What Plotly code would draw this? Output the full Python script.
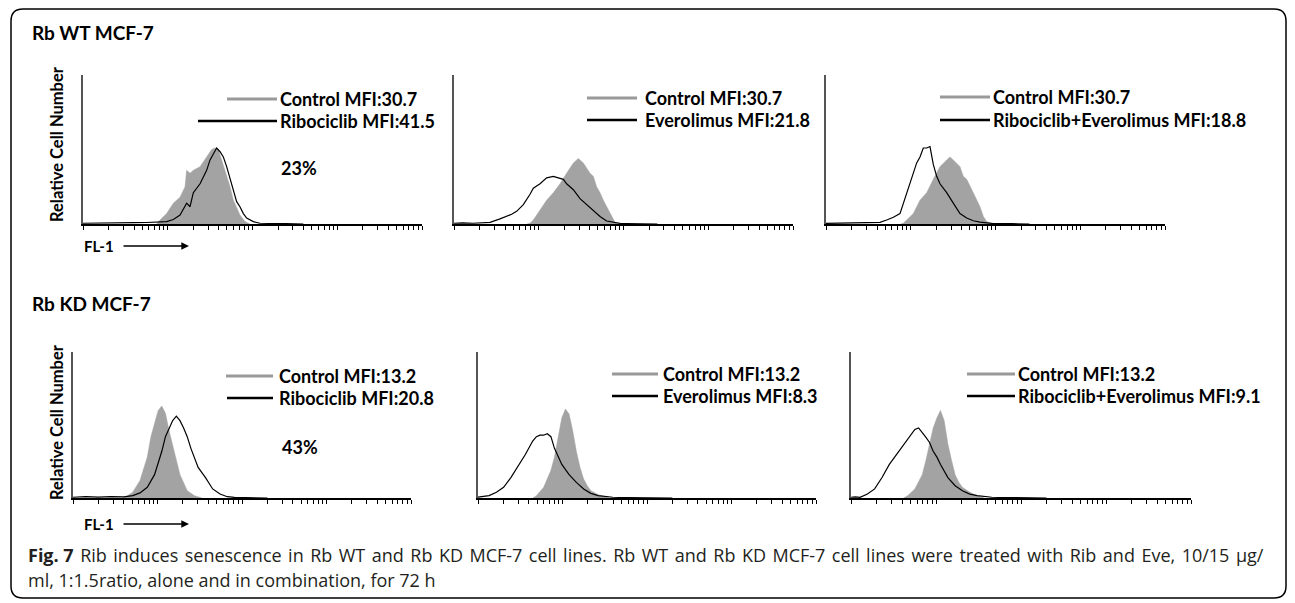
import numpy as np
import plotly.graph_objects as go

W, H = 1295, 603

# ------------------------------------------------------------------
# DATA  (FL-1 position in log10 units, relative cell number in %)
# ------------------------------------------------------------------
# Rb WT MCF-7 ------------------------------------------------------
# Panel 1 : Control vs Ribociclib
p1_ctrl_fl1 = [0.87, 0.909, 0.987, 1.066, 1.145, 1.204, 1.223, 1.263, 1.302, 1.381, 1.459, 1.518,
               1.558, 1.597, 1.636, 1.676, 1.695, 1.735, 1.774, 1.813, 1.852, 1.911, 1.970]
p1_ctrl_cnt = [0, 2.7, 7, 14, 18, 25, 36, 34, 36, 38.5, 45, 50,
               51, 50, 43, 36, 32, 25, 16, 10.5, 6, 1.6, 0]
p1_trt_fl1 = [0.0, 0.2, 0.4, 0.6, 0.75, 0.9, 0.987, 1.066, 1.145, 1.223, 1.263, 1.302, 1.381, 1.459,
              1.499, 1.538, 1.577, 1.617, 1.656, 1.695, 1.735, 1.774, 1.813, 1.852, 1.892, 1.931,
              2.010, 2.088, 2.167, 2.4, 2.6]
p1_trt_cnt = [0.5, 0.8, 0.6, 0.9, 1.0, 1.2, 1.6, 3, 6, 14, 11.6, 21, 27, 36,
              43, 47, 51, 48.5, 45, 38.5, 30, 22, 15, 11.6, 7, 4,
              1.6, 0.5, 0.3, 0.2, 0]

# Panel 2 : Control vs Everolimus
p2_ctrl_fl1 = [0.86, 0.897, 0.936, 1.015, 1.093, 1.172, 1.251, 1.329, 1.408, 1.467, 1.526, 1.605,
               1.644, 1.683, 1.723, 1.762, 1.801, 1.860, 1.900, 1.939]
p2_ctrl_cnt = [0, 0.5, 2.7, 9.4, 16, 21, 27, 34, 41, 44, 41, 34,
               32, 25, 21, 16, 11.6, 5, 1, 0]
p2_trt_fl1 = [0.0, 0.1, 0.228, 0.3, 0.425, 0.543, 0.621, 0.68, 0.739, 0.818, 0.897, 0.936, 1.015,
              1.093, 1.172, 1.251, 1.290, 1.329, 1.408, 1.487, 1.565, 1.644, 1.723, 1.801, 1.880,
              1.959, 2.037, 2.2, 2.4]
p2_trt_cnt = [0.5, 0.8, 0.5, 0.9, 1.1, 3.4, 5, 6.5, 8.5, 13, 20, 24, 27,
              31, 32, 31, 30, 27, 23, 17, 13, 9, 5, 2, 1,
              0.4, 0.3, 0.2, 0]

# Panel 3 : Control vs Ribociclib+Everolimus
p3_ctrl_fl1 = [0.88, 0.912, 0.952, 1.030, 1.109, 1.188, 1.266, 1.345, 1.424, 1.463, 1.502, 1.581,
               1.620, 1.660, 1.738, 1.817, 1.857, 1.896, 1.975]
p3_ctrl_cnt = [0, 0.5, 2.7, 7, 16, 21, 30, 38.5, 43, 45, 43, 38.5,
               32, 30, 21, 11.6, 5, 1.6, 0]
p3_trt_fl1 = [0.0, 0.2, 0.401, 0.55, 0.637, 0.716, 0.795, 0.873, 0.912, 0.952, 0.991, 1.030, 1.070,
              1.109, 1.148, 1.188, 1.227, 1.266, 1.306, 1.345, 1.424, 1.502, 1.581, 1.660, 1.738,
              1.817, 1.896, 1.975, 2.2, 2.4]
p3_trt_cnt = [0.4, 0.7, 0.5, 0.8, 1.1, 2.7, 4.5, 7, 14, 21, 27, 34, 41,
              45, 51, 51, 52, 40, 32, 27, 21, 14, 7, 4, 2.2,
              1.3, 0.7, 0.3, 0.2, 0]

# Rb KD MCF-7 ------------------------------------------------------
# Panel 4 : Control vs Ribociclib
p4_ctrl_fl1 = [0.58, 0.621, 0.707, 0.793, 0.879, 0.922, 0.965, 1.008, 1.051, 1.094, 1.137, 1.180,
               1.223, 1.266, 1.309, 1.352, 1.438, 1.524]
p4_ctrl_cnt = [0, 0.5, 4, 12, 28, 42, 51, 60, 63, 58, 46, 35,
               26, 16, 10, 5, 1.6, 0]
p4_trt_fl1 = [0.0, 0.15, 0.3, 0.45, 0.6, 0.707, 0.793, 0.879, 0.965, 1.051, 1.094, 1.137, 1.180,
              1.223, 1.266, 1.309, 1.352, 1.395, 1.438, 1.481, 1.568, 1.611, 1.653, 1.740, 1.826,
              1.911, 2.1, 2.3]
p4_trt_cnt = [0.5, 0.9, 0.6, 1.0, 0.8, 1.6, 3.5, 7.3, 16, 32, 42, 48, 53,
              56, 53, 48, 42, 34, 28, 21, 14, 9.6, 6.2, 2.7, 0.9,
              0.4, 0.2, 0]

# Panel 5 : Control vs Everolimus
p5_ctrl_fl1 = [0.65, 0.691, 0.777, 0.863, 0.905, 0.949, 0.992, 1.035, 1.078, 1.121, 1.164, 1.207,
               1.250, 1.293, 1.336, 1.422, 1.509, 1.55]
p5_ctrl_cnt = [0, 1.6, 7.3, 19, 28, 42, 55, 61, 57.5, 46, 32, 21,
               13, 8.4, 5, 2.3, 0.5, 0]
p5_trt_fl1 = [0.0, 0.045, 0.131, 0.218, 0.303, 0.389, 0.476, 0.562, 0.647, 0.691, 0.734, 0.777,
              0.820, 0.863, 0.905, 0.949, 0.992, 1.078, 1.164, 1.250, 1.336, 1.422, 1.594, 1.767,
              2.0, 2.3]
p5_trt_cnt = [0.6, 1.0, 1.6, 3.9, 7.3, 14, 22, 30, 39, 42, 43, 43,
              44, 42, 34, 28, 23, 16, 10.7, 6.2, 3.2, 1.6, 0.5, 0.3,
              0.2, 0]

# Panel 6 : Control vs Ribociclib+Everolimus
p6_ctrl_fl1 = [0.62, 0.666, 0.751, 0.838, 0.882, 0.924, 0.967, 1.011, 1.053, 1.096, 1.140, 1.182,
               1.225, 1.269, 1.311, 1.398, 1.484, 1.569]
p6_ctrl_cnt = [0, 1.6, 6.2, 16, 26, 37, 48, 55, 60, 53, 37, 26,
               16, 10.7, 7.3, 3.9, 1.6, 0]
p6_trt_fl1 = [0.0, 0.05, 0.107, 0.193, 0.278, 0.365, 0.451, 0.537, 0.623, 0.709, 0.751, 0.795,
              0.838, 0.882, 0.924, 0.967, 1.011, 1.053, 1.140, 1.225, 1.311, 1.398, 1.484, 1.656,
              1.828, 2.0, 2.3]
p6_trt_cnt = [0.5, 0.8, 0.5, 2.7, 6.2, 14, 23, 30, 37, 44, 47, 48,
              45, 41.5, 38, 32, 28, 23, 14, 8.4, 5, 2.7, 1.6, 0.5,
              0.3, 0.2, 0]

ctrl_labels = ["Control MFI:30.7", "Control MFI:30.7", "Control MFI:30.7",
               "Control MFI:13.2", "Control MFI:13.2", "Control MFI:13.2"]
trt_labels = ["Ribociclib MFI:41.5", "Everolimus MFI:21.8", "Ribociclib+Everolimus MFI:18.8",
              "Ribociclib MFI:20.8", "Everolimus MFI:8.3", "Ribociclib+Everolimus MFI:9.1"]
pct_labels = ["23%", None, None, "43%", None, None]
row_titles = ["Rb WT MCF-7", "Rb KD MCF-7"]
y_title = "Relative Cell Number"
x_title = "FL-1"
caption_fig = "Fig. 7"
caption_1 = ("Rib induces senescence in Rb WT and Rb KD MCF-7 cell lines. Rb WT and "
             "Rb KD MCF-7 cell lines were treated with Rib and Eve, 10/15 µg/")
caption_2 = "ml, 1:1.5ratio, alone and in combination, for 72 h"

series = [
    (p1_ctrl_fl1, p1_ctrl_cnt, p1_trt_fl1, p1_trt_cnt),
    (p2_ctrl_fl1, p2_ctrl_cnt, p2_trt_fl1, p2_trt_cnt),
    (p3_ctrl_fl1, p3_ctrl_cnt, p3_trt_fl1, p3_trt_cnt),
    (p4_ctrl_fl1, p4_ctrl_cnt, p4_trt_fl1, p4_trt_cnt),
    (p5_ctrl_fl1, p5_ctrl_cnt, p5_trt_fl1, p5_trt_cnt),
    (p6_ctrl_fl1, p6_ctrl_cnt, p6_trt_fl1, p6_trt_cnt),
]

# ------------------------------------------------------------------
# LAYOUT helpers (pixel -> paper)
# ------------------------------------------------------------------
def px(x):
    return x / W


def py(y):
    return 1 - y / H


# plot boxes in pixels: (x_left, x_right, y_top, y_bottom)
boxes = [(83, 422, 75, 224), (454, 793, 75, 224), (826, 1165, 75, 224),
         (73, 411, 352, 498), (478, 816, 352, 498), (851, 1191, 352, 498)]
# legend geometry: (gray x0, black x0, line x1, text x, y ctrl, y trt)
legend_geo = [(227, 198, 277, 278, 99, 121), (587, 587, 637, 643, 98, 120),
              (940, 940, 990, 991, 97, 120), (226, 227, 273, 277, 376, 398),
              (612, 612, 658, 661, 374, 396), (967, 967, 1015, 1016, 374, 396)]
pct_pos = [(279, 168), None, None, (280, 447), None, None]

GRAY = "#a3a3a3"
LBL_FONT = "Lato"
LBL_SIZE = 18

tickvals = [m * 10 ** k for k in range(4) for m in range(1, 10)] + [10000]

fig = go.Figure()
layout = dict(
    width=W, height=H, margin=dict(l=0, r=0, t=0, b=0),
    paper_bgcolor="white", plot_bgcolor="rgba(0,0,0,0)",
    showlegend=False,
)
shapes = []
annotations = []


def label(text, x, y, size=LBL_SIZE, **kw):
    d = dict(text=f"<b>{text}</b>", x=px(x), y=py(y), xref="paper", yref="paper",
             xanchor="left", yanchor="middle", showarrow=False,
             font=dict(family=LBL_FONT, size=size, color="black"))
    d.update(kw)
    return d


for i, (cf, cc, tf, tc) in enumerate(series):
    n = i + 1
    xs = "x" if n == 1 else f"x{n}"
    ys = "y" if n == 1 else f"y{n}"
    fig.add_trace(go.Scatter(
        x=10 ** np.array(cf), y=cc, xaxis=xs, yaxis=ys, mode="lines",
        line=dict(color=GRAY, width=0.5), fill="tozeroy", fillcolor=GRAY,
        hoverinfo="skip"))
    fig.add_trace(go.Scatter(
        x=10 ** np.array(tf), y=tc, xaxis=xs, yaxis=ys, mode="lines",
        line=dict(color="black", width=1.2), hoverinfo="skip"))
    x0, x1, y0, y1 = boxes[i]
    layout[f"xaxis{n}"] = dict(
        domain=[px(x0), px(x1)], anchor=ys, type="log", range=[0, 4],
        showline=True, linecolor="black", linewidth=1.5, mirror=False,
        ticks="outside", tickvals=tickvals, ticklen=4, tickwidth=1, tickcolor="black",
        showticklabels=False, showgrid=False, zeroline=False, fixedrange=True)
    layout[f"yaxis{n}"] = dict(
        domain=[py(y1), py(y0)], anchor=xs, range=[0, 100],
        showline=True, linecolor="#555555", linewidth=1.5,
        ticks="", showticklabels=False, showgrid=False, zeroline=False, fixedrange=True)

    gx0, bx0, lx1, tx, yc, yt = legend_geo[i]
    shapes.append(dict(type="line", xref="paper", yref="paper", x0=px(gx0), x1=px(lx1),
                       y0=py(yc), y1=py(yc), line=dict(color="#999999", width=3)))
    shapes.append(dict(type="line", xref="paper", yref="paper", x0=px(bx0), x1=px(lx1),
                       y0=py(yt), y1=py(yt), line=dict(color="black", width=2.5)))
    annotations.append(label(ctrl_labels[i], tx, yc))
    annotations.append(label(trt_labels[i], tx, yt))
    if pct_labels[i]:
        ppx, ppy = pct_pos[i]
        annotations.append(label(pct_labels[i], ppx, ppy))

# row titles, y titles, FL-1 arrows
for r, (ty, ycen, fy) in enumerate([(33, 144, 246), (303, 422, 524)]):
    annotations.append(label(row_titles[r], 30, ty, size=19))
    annotations.append(label(y_title, 57, ycen, size=16.5, textangle=-90, xanchor="center"))
    annotations.append(label(x_title, 82, fy, size=15))
    annotations.append(dict(text="", x=px(189), y=py(fy), xref="paper", yref="paper",
                            ax=-67, ay=0, axref="pixel", ayref="pixel",
                            showarrow=True, arrowhead=2, arrowsize=1.1, arrowwidth=1.4,
                            arrowcolor="black"))

# caption (first line justified by widening word gaps with hair spaces)
cap1 = caption_1.replace(" ", " \u200a")
annotations.append(dict(text=f"<b>{caption_fig}</b> \u200a{cap1}", x=px(26), y=py(555),
                        xref="paper", yref="paper", xanchor="left", yanchor="middle",
                        showarrow=False,
                        font=dict(family="Open Sans", size=18, color="#231f20")))
annotations.append(dict(text=caption_2, x=px(26), y=py(580), xref="paper", yref="paper",
                        xanchor="left", yanchor="middle", showarrow=False,
                        font=dict(family="Open Sans", size=18, color="#231f20")))

# rounded outer frame
L, R, T, B, rad = 11, 1286, 9, 598, 12
path = (f"M {px(L + rad)},{py(T)} L {px(R - rad)},{py(T)} Q {px(R)},{py(T)} {px(R)},{py(T + rad)} "
        f"L {px(R)},{py(B - rad)} Q {px(R)},{py(B)} {px(R - rad)},{py(B)} "
        f"L {px(L + rad)},{py(B)} Q {px(L)},{py(B)} {px(L)},{py(B - rad)} "
        f"L {px(L)},{py(T + rad)} Q {px(L)},{py(T)} {px(L + rad)},{py(T)} Z")
shapes.append(dict(type="path", xref="paper", yref="paper", path=path,
                   line=dict(color="black", width=1.5)))

layout["shapes"] = shapes
layout["annotations"] = annotations
fig.update_layout(**layout)
fig.write_html("out.html")
